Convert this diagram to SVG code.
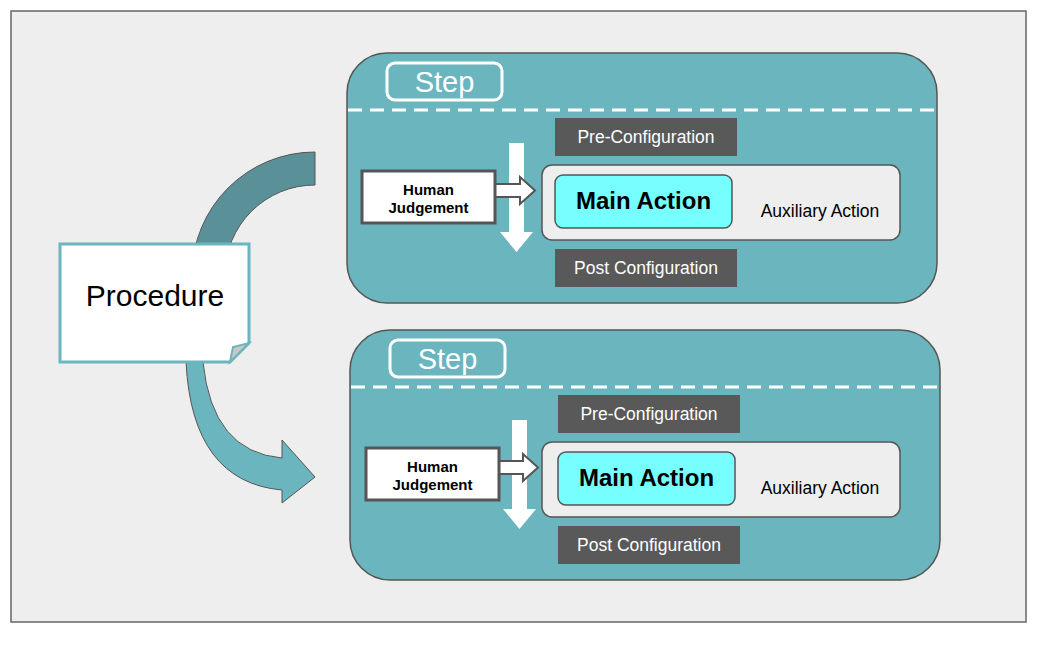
<svg xmlns="http://www.w3.org/2000/svg" width="1048" height="650" viewBox="0 0 1048 650">
<style>
text{font-family:"Liberation Sans",Arial,sans-serif}
.step{fill:#6bb5bf;stroke:#555;stroke-width:1.5}
.lbl{fill:none;stroke:#fff;stroke-width:3}
.steptx{font-size:29px;fill:#fff;text-anchor:middle}
.dash{stroke:#fff;stroke-width:3;stroke-dasharray:14,8}
.cfg{fill:#595959}
.cfgt{fill:#fff;font-size:17.5px;text-anchor:middle}
.inner{fill:#eeeeee;stroke:#555;stroke-width:1.5}
.main{fill:#77ffff;stroke:#555;stroke-width:1.5}
.maint{font-size:24px;font-weight:bold;text-anchor:middle}
.aux{font-size:17.5px;text-anchor:middle}
.hj{fill:#fff;stroke:#555;stroke-width:3}
.hjt{font-size:15px;font-weight:bold;text-anchor:middle}
</style>
<rect x="11" y="11" width="1015" height="611" fill="#eeeeee" stroke="#666" stroke-width="1.5"/>
<g id="connectors">
<path d="M315,152 L315,185 A90,90 0 0 0 225,275 L192,275 A123,123 0 0 1 315,152 Z" fill="#5a9198" stroke="#555" stroke-width="1"/>
<path d="M186,362 Q192,482 282,490 L282,503 L315,477 L282,440 L282,458 Q212,452 203,362 Z" fill="#6bb5be" stroke="#555" stroke-width="1"/>
</g>
<g id="procedure">
<path d="M60,244 H249 V343 L230,362 H60 Z" fill="#fff" stroke="#6bb5bf" stroke-width="3"/>
<path d="M230,362 L233,347 L249,343 Z" fill="#c8c8c8" stroke="#6bb5bf" stroke-width="2"/>
<text x="155" y="306" font-size="30" text-anchor="middle">Procedure</text>
</g>
<g id="step1">
<rect class="step" x="347" y="53" width="590" height="250" rx="40"/>
<rect class="lbl" x="387" y="63" width="115" height="37" rx="8"/>
<text class="steptx" x="444.5" y="92">Step</text>
<line class="dash" x1="348" y1="110" x2="937" y2="110"/>
<rect class="cfg" x="555" y="118" width="182" height="38"/>
<text class="cfgt" x="646" y="143">Pre-Configuration</text>
<path d="M509,143 H524 V232 H533 L516.5,252 L500,232 H509 Z" fill="#fff"/>
<rect class="inner" x="542" y="165" width="358" height="75" rx="10"/>
<rect class="main" x="555" y="175" width="177" height="53" rx="8"/>
<text class="maint" x="643.5" y="209">Main Action</text>
<text class="aux" x="820" y="217">Auxiliary Action</text>
<rect class="cfg" x="555" y="249" width="182" height="38"/>
<text class="cfgt" x="646" y="274">Post Configuration</text>
<path d="M495,184 H520 V177 L535,190.5 L520,204 V197 H495 Z" fill="#fff" stroke="#555" stroke-width="2"/>
<rect class="hj" x="362" y="171" width="133" height="52"/>
<text class="hjt" x="428.5" y="195">Human</text>
<text class="hjt" x="428.5" y="213">Judgement</text>
</g>
<g id="step2">
<rect class="step" x="350" y="330" width="590" height="250" rx="40"/>
<rect class="lbl" x="390" y="340" width="115" height="37" rx="8"/>
<text class="steptx" x="447.5" y="369">Step</text>
<line class="dash" x1="351" y1="387" x2="940" y2="387"/>
<rect class="cfg" x="558" y="395" width="182" height="38"/>
<text class="cfgt" x="649" y="420">Pre-Configuration</text>
<path d="M512,420 H527 V509 H536 L519.5,529 L503,509 H512 Z" fill="#fff"/>
<rect class="inner" x="542" y="442" width="358" height="75" rx="10"/>
<rect class="main" x="558" y="452" width="177" height="53" rx="8"/>
<text class="maint" x="646.5" y="486">Main Action</text>
<text class="aux" x="820" y="494">Auxiliary Action</text>
<rect class="cfg" x="558" y="526" width="182" height="38"/>
<text class="cfgt" x="649" y="551">Post Configuration</text>
<path d="M498,461 H523 V454 L538,467.5 L523,481 V474 H498 Z" fill="#fff" stroke="#555" stroke-width="2"/>
<rect class="hj" x="366" y="448" width="133" height="52"/>
<text class="hjt" x="432.5" y="472">Human</text>
<text class="hjt" x="432.5" y="490">Judgement</text>
</g>
</svg>
